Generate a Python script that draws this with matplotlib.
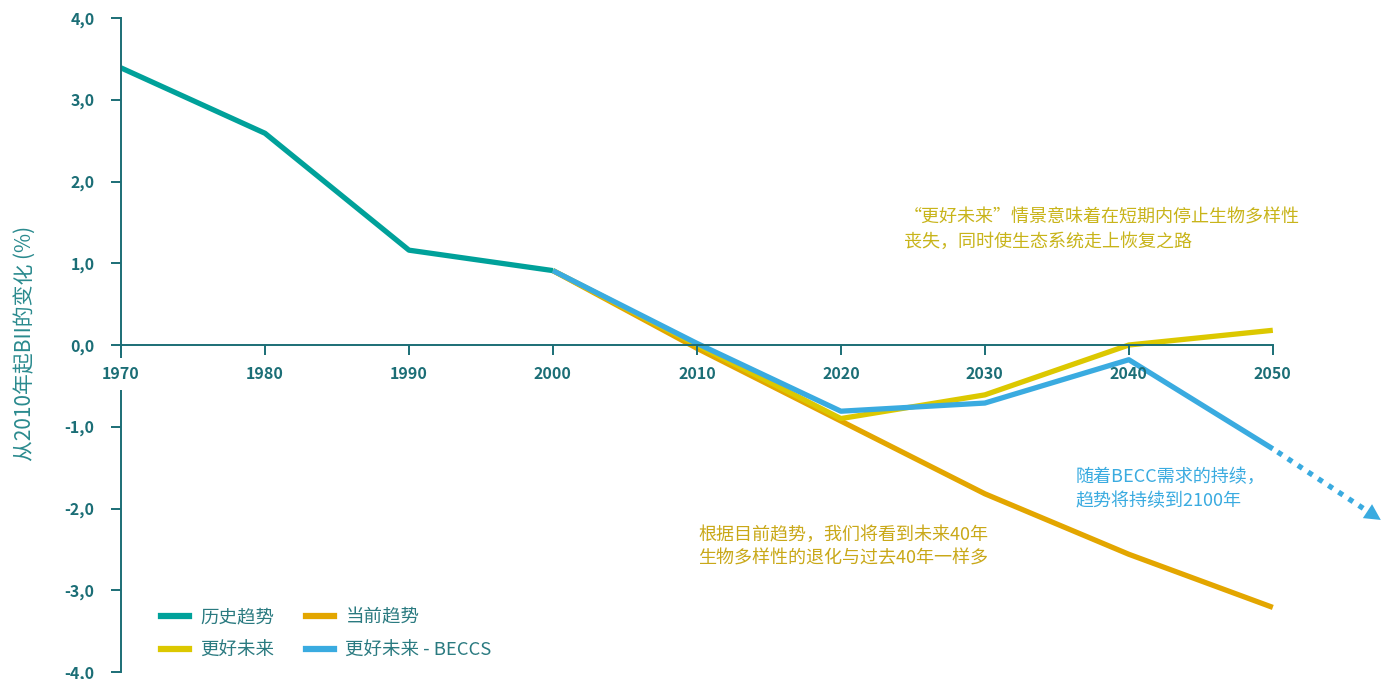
import numpy as np
import matplotlib
matplotlib.use('Agg')
import matplotlib.pyplot as plt
from matplotlib.lines import Line2D

plt.rcParams['font.family'] = ['Noto Sans CJK SC', 'DejaVu Sans']

# BII change since 2010 (%)
hist_years = [1970, 1980, 1990, 2000]
hist_vals = [3.39, 2.59, 1.16, 0.91]

scen_years = [2000, 2010, 2020, 2030, 2040, 2050]
current_vals = [0.91, -0.04, -0.93, -1.82, -2.56, -3.21]
better_vals = [0.91, 0.0, -0.90, -0.61, 0.0, 0.18]
beccs_vals = [0.91, 0.02, -0.81, -0.71, -0.18, -1.27]

# dotted continuation of the BECCS path
beccs_ext_years = [2050, 2057.5]
beccs_ext_vals = [-1.27, -2.14]

x_ticks = [1970, 1980, 1990, 2000, 2010, 2020, 2030, 2040, 2050]
y_ticks = [4, 3, 2, 1, 0, -1, -2, -3, -4]

teal = '#00a19a'
orange = '#e3a600'
yellow = '#dcc800'
blue = '#3aabe0'
axis_col = '#1b6e76'
label_col = '#2a8a8e'

fig = plt.figure(figsize=(13.91, 6.79), dpi=100)
ax = fig.add_axes([121 / 1391, 7 / 679, (1388 - 121) / 1391, (672 - 18) / 679])

lw = 3.8
ax.plot(scen_years, current_vals, color=orange, lw=lw, solid_capstyle='butt', zorder=2)
ax.plot(scen_years, better_vals, color=yellow, lw=lw, solid_capstyle='butt', zorder=2.1)
ax.plot(hist_years, hist_vals, color=teal, lw=lw, solid_capstyle='butt', zorder=2.2)
ax.plot(scen_years, beccs_vals, color=blue, lw=lw, solid_capstyle='butt', zorder=2.3)

# dotted tail, stopping short of the arrow head
x0, x1 = beccs_ext_years
y0, y1 = beccs_ext_vals
f = 0.84
ax.plot([x0, x0 + (x1 - x0) * f], [y0, y0 + (y1 - y0) * f],
        color=blue, lw=lw, linestyle=(1.2, (1, 1.3)), zorder=2.3)
ax.annotate('', xy=(x1, y1),
            xytext=(x0 + (x1 - x0) * 0.78, y0 + (y1 - y0) * 0.78),
            arrowprops=dict(arrowstyle='-|>,head_length=1.15,head_width=0.6',
                            color=blue, lw=0, shrinkA=0, shrinkB=0))

ax.set_xlim(1970, 2058)
ax.set_ylim(-4, 4)

for s in ['top', 'right']:
    ax.spines[s].set_visible(False)
ax.spines['bottom'].set_position(('data', 0))
ax.spines['bottom'].set_bounds(1970, 2050)
ax.spines['left'].set_bounds(-4, 4)
for s in ['bottom', 'left']:
    ax.spines[s].set_color(axis_col)
    ax.spines[s].set_linewidth(1.4)

ax.set_xticks(x_ticks)
ax.set_xticklabels([str(y) for y in x_ticks])
ax.set_yticks(y_ticks)
ax.set_yticklabels([f'{v:.1f}'.replace('.', ',') for v in y_ticks])
ax.tick_params(axis='both', colors=axis_col, length=7, width=1.4, direction='out',
               labelsize=11.5)
ax.tick_params(axis='x', pad=8)
ax.tick_params(axis='y', pad=12)
for lab in ax.get_xticklabels() + ax.get_yticklabels():
    lab.set_fontweight('bold')
    lab.set_color(axis_col)
# first year label sits over the y spine, so blank it out behind the text
ax.xaxis.set_zorder(3)
ax.get_xticklabels()[0].set_bbox(dict(facecolor='white', edgecolor='none', pad=6))

fig.text(25 / 1391, 1 - 343 / 679, '从2010年起BII的变化 (%)', rotation=90,
         ha='center', va='center', fontsize=15, color=label_col)

ax.text(2024.4, 1.41, '“更好未来”情景意味着在短期内停止生物多样性\n丧失，同时使生态系统走上恢复之路',
        fontsize=13, color='#c8b41a', ha='left', va='center', linespacing=1.4)
ax.text(2010.1, -2.47, '根据目前趋势，我们将看到未来40年\n生物多样性的退化与过去40年一样多',
        fontsize=13, color='#c9a818', ha='left', va='center', linespacing=1.4)
ax.text(2036.3, -1.76, '随着BECC需求的持续，\n趋势将持续到2100年',
        fontsize=13, color=blue, ha='left', va='center', linespacing=1.4)

handles = [Line2D([], [], color=teal, lw=4.5),
           Line2D([], [], color=yellow, lw=4.5),
           Line2D([], [], color=orange, lw=4.5),
           Line2D([], [], color=blue, lw=4.5)]
labels = ['历史趋势', '更好未来', '当前趋势', '更好未来 - BECCS']
leg = fig.legend(handles, labels, ncol=2, frameon=False, fontsize=13.3,
                 loc='lower left', bbox_to_anchor=(144 / 1391, 1 - 676 / 679),
                 handlelength=1.55, handletextpad=0.6, columnspacing=1.7,
                 labelspacing=0.8)
for t in leg.get_texts():
    t.set_color('#2a7a80')

fig.savefig('out.png', dpi=100)
